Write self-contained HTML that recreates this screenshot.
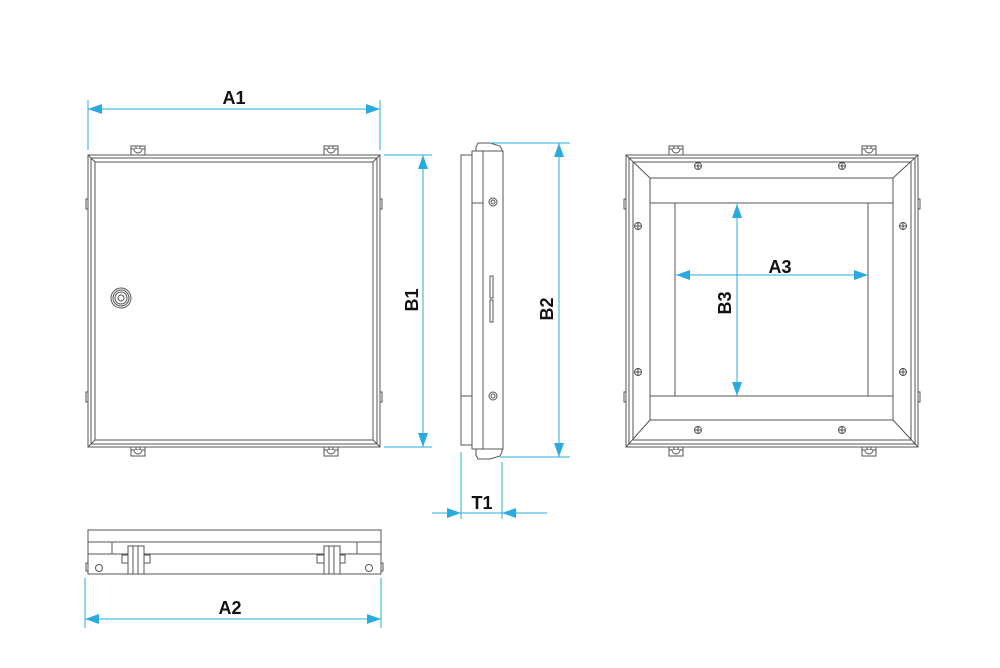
<!DOCTYPE html>
<html><head><meta charset="utf-8"><style>html,body{margin:0;padding:0;background:#fff}svg{display:block}</style></head>
<body>
<svg width="1000" height="668" viewBox="0 0 1000 668" xmlns="http://www.w3.org/2000/svg">
<defs>
<g id="lug" fill="#fff" stroke="#555" stroke-width="1"><rect x="-7" y="0" width="14" height="9"/><line x1="-7" y1="3" x2="7" y2="3"/><path d="M-4 3 A4 4 0 0 0 4 3"/><line x1="-2" y1="0" x2="-2" y2="3"/><line x1="2" y1="0" x2="2" y2="3"/></g>
<g id="screw" fill="#fff" stroke="#444" stroke-width="0.9"><circle r="3.5"/><line x1="-3.5" y1="0" x2="3.5" y2="0"/><line x1="0" y1="-3.5" x2="0" y2="3.5"/></g>
</defs>
<g fill="none" stroke="#555" stroke-width="1">
<!-- View 1 -->
<rect x="88" y="155" width="292" height="292" fill="#fff"/>
<rect x="91" y="158" width="286" height="286"/>
<rect x="95" y="162" width="278" height="278"/>
<line x1="88" y1="155" x2="95" y2="162"/><line x1="380" y1="155" x2="373" y2="162"/>
<line x1="88" y1="447" x2="95" y2="440"/><line x1="380" y1="447" x2="373" y2="440"/>
<rect x="86" y="199" width="2" height="10"/><rect x="86" y="392" width="2" height="10"/>
<rect x="380" y="199" width="2" height="10"/><rect x="380" y="392" width="2" height="10"/>
<circle cx="121" cy="298" r="10"/><circle cx="121" cy="298" r="8"/><circle cx="121" cy="298" r="6"/><circle cx="121" cy="298" r="3"/>
</g>
<use href="#lug" x="138" y="146"/><use href="#lug" x="331" y="146"/>
<use href="#lug" x="138" y="447"/><use href="#lug" x="331" y="447"/>

<!-- Side view -->
<g fill="#fff" stroke="#555" stroke-width="1">
<path d="M476 147 L478 143 L490 143 L500 146 L502 150 L502 155 L476 155 Z"/>
<path d="M476 455 L478 459 L490 459 L500 456 L502 452 L502 447 L476 447 Z"/>
<rect x="461" y="155" width="11" height="290"/>
<rect x="472" y="151" width="11" height="298"/>
<rect x="483" y="151" width="20" height="298"/>
<line x1="472" y1="203" x2="483" y2="203"/><line x1="461" y1="396" x2="472" y2="396"/>
<circle cx="493" cy="202" r="4"/><circle cx="493" cy="202" r="2"/>
<circle cx="493" cy="396" r="4"/><circle cx="493" cy="396" r="2"/>
<rect x="490" y="276" width="3" height="22"/><rect x="490" y="300" width="3" height="22"/>
</g>

<!-- Right view -->
<g fill="none" stroke="#555" stroke-width="1">
<rect x="626" y="155" width="292" height="292" fill="#fff"/>
<rect x="629" y="158" width="286" height="286"/>
<rect x="633" y="162" width="278" height="278"/>
<line x1="626" y1="155" x2="650" y2="178"/><line x1="918" y1="155" x2="893" y2="178"/>
<line x1="626" y1="447" x2="650" y2="420"/><line x1="918" y1="447" x2="893" y2="420"/>
<rect x="650" y="178" width="243" height="242"/>
<line x1="650" y1="203" x2="893" y2="203"/><line x1="650" y1="396" x2="893" y2="396"/>
<line x1="675" y1="203" x2="675" y2="396"/><line x1="868" y1="203" x2="868" y2="396"/>
<rect x="624" y="199" width="2" height="10"/><rect x="624" y="392" width="2" height="10"/>
<rect x="918" y="199" width="2" height="10"/><rect x="918" y="392" width="2" height="10"/>
</g>
<use href="#lug" x="676" y="146"/><use href="#lug" x="869" y="146"/>
<use href="#lug" x="676" y="447"/><use href="#lug" x="869" y="447"/>
<use href="#screw" x="698" y="166"/><use href="#screw" x="842" y="166"/>
<use href="#screw" x="638" y="226"/><use href="#screw" x="903" y="226"/>
<use href="#screw" x="638" y="372"/><use href="#screw" x="903" y="372"/>
<use href="#screw" x="698" y="430"/><use href="#screw" x="842" y="430"/>

<!-- Bottom view -->
<g fill="#fff" stroke="#555" stroke-width="1">
<rect x="88" y="530" width="293" height="44"/>
<line x1="88" y1="542" x2="381" y2="542"/><line x1="88" y1="554" x2="381" y2="554"/>
<line x1="112" y1="542" x2="112" y2="554"/><line x1="357" y1="542" x2="357" y2="554"/>
<rect x="122" y="555" width="28" height="8"/><rect x="128" y="546" width="16" height="28"/>
<line x1="133" y1="546" x2="133" y2="574"/><line x1="138" y1="546" x2="138" y2="574"/>
<rect x="317" y="555" width="28" height="8"/><rect x="324" y="546" width="16" height="28"/>
<line x1="329" y1="546" x2="329" y2="574"/><line x1="334" y1="546" x2="334" y2="574"/>
<circle cx="99" cy="568" r="3.5"/><circle cx="369" cy="568" r="3.5"/>
<rect x="86" y="563" width="2" height="8"/><rect x="381" y="563" width="2" height="8"/>
</g>

<!-- Dimensions -->
<g stroke="#29abe2" stroke-width="1" fill="none">
<line x1="88" y1="100" x2="88" y2="150"/><line x1="380" y1="100" x2="380" y2="150"/><line x1="88" y1="109" x2="380" y2="109"/>
<line x1="384" y1="155" x2="432" y2="155"/><line x1="384" y1="447" x2="432" y2="447"/><line x1="423" y1="155" x2="423" y2="447"/>
<line x1="490" y1="143" x2="570" y2="143"/><line x1="500" y1="457" x2="570" y2="457"/><line x1="559" y1="143" x2="559" y2="457"/>
<line x1="461" y1="452" x2="461" y2="519"/><line x1="502" y1="462" x2="502" y2="519"/><line x1="432" y1="513" x2="547" y2="513"/>
<line x1="676" y1="275" x2="868" y2="275"/><line x1="737" y1="204" x2="737" y2="396"/>
<line x1="85" y1="578" x2="85" y2="628"/><line x1="381" y1="578" x2="381" y2="628"/><line x1="85" y1="619" x2="381" y2="619"/>
</g>
<g fill="#29abe2">
<path d="M88 109 l14 -5 v10z"/><path d="M380 109 l-14 -5 v10z"/>
<path d="M423 155 l-5 14 h10z"/><path d="M423 447 l-5 -14 h10z"/>
<path d="M559 143 l-5 14 h10z"/><path d="M559 457 l-5 -14 h10z"/>
<path d="M461 513 l-14 -5 v10z"/><path d="M502 513 l14 -5 v10z"/>
<path d="M676 275 l14 -5 v10z"/><path d="M868 275 l-14 -5 v10z"/>
<path d="M737 204 l-5 14 h10z"/><path d="M737 396 l-5 -14 h10z"/>
<path d="M85 619 l14 -5 v10z"/><path d="M381 619 l-14 -5 v10z"/>
</g>
<g font-family="Liberation Sans, sans-serif" font-weight="bold" font-size="18" fill="#111" text-anchor="middle">
<text x="234" y="104">A1</text>
<text x="230" y="614">A2</text>
<text x="482" y="509">T1</text>
<text x="780" y="273">A3</text>
<text transform="translate(418,300) rotate(-90)">B1</text>
<text transform="translate(553,309) rotate(-90)">B2</text>
<text transform="translate(731,303) rotate(-90)">B3</text>
</g>
</svg>
</body></html>
